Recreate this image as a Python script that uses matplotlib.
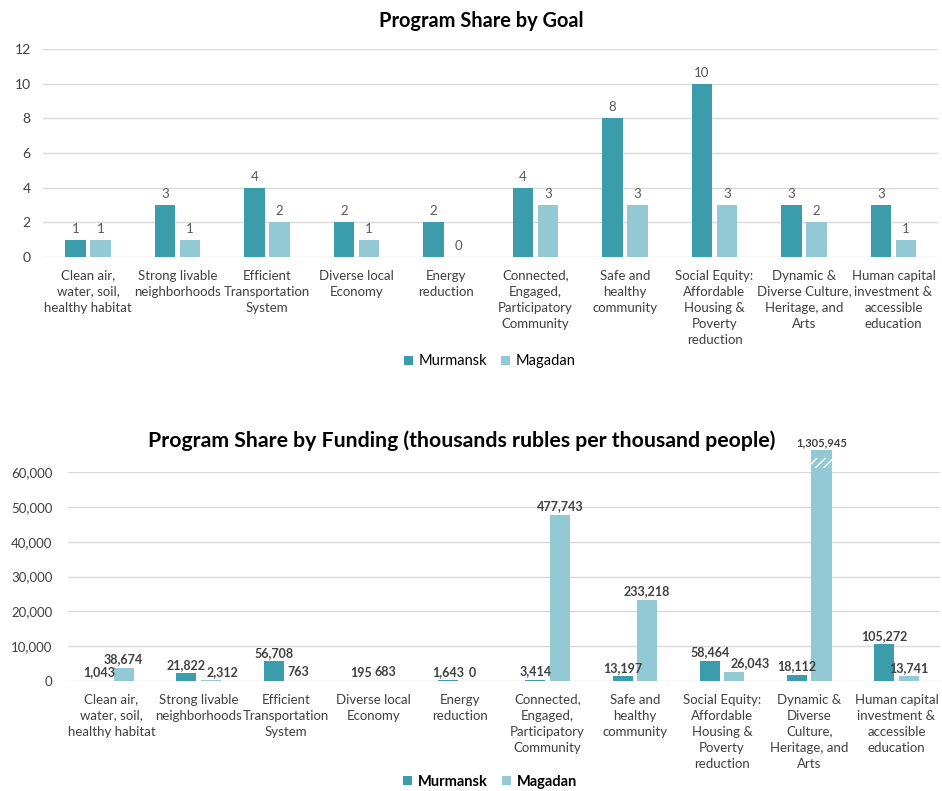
import matplotlib
matplotlib.use('Agg')
import matplotlib.pyplot as plt
import numpy as np

plt.rcParams['font.family'] = ['Lato', 'DejaVu Sans']

goal_labels = ['Clean air,\nwater, soil,\nhealthy habitat', 'Strong livable\nneighborhoods',
               'Efficient\nTransportation\nSystem', 'Diverse local\nEconomy', 'Energy\nreduction',
               'Connected,\nEngaged,\nParticipatory\nCommunity', 'Safe and\nhealthy\ncommunity',
               'Social Equity:\nAffordable\nHousing &\nPoverty\nreduction',
               'Dynamic &\nDiverse Culture,\nHeritage, and\nArts',
               'Human capital\ninvestment &\naccessible\neducation']
fund_labels = ['Clean air,\nwater, soil,\nhealthy habitat', 'Strong livable\nneighborhoods',
               'Efficient\nTransportation\nSystem', 'Diverse local\nEconomy', 'Energy\nreduction',
               'Connected,\nEngaged,\nParticipatory\nCommunity', 'Safe and\nhealthy\ncommunity',
               'Social Equity:\nAffordable\nHousing &\nPoverty\nreduction',
               'Dynamic &\nDiverse\nCulture,\nHeritage, and\nArts',
               'Human capital\ninvestment &\naccessible\neducation']

murmansk_goal = [1, 3, 4, 2, 2, 4, 8, 10, 3, 3]
magadan_goal = [1, 1, 2, 1, 0, 3, 3, 3, 2, 1]

murmansk_fund = [1043, 21822, 56708, 195, 1643, 3414, 13197, 58464, 18112, 105272]
magadan_fund = [38674, 2312, 763, 683, 0, 477743, 233218, 26043, 1305945, 13741]

c_mur = '#3b9cab'
c_mag = '#93c9d4'
grid_c = '#d9d9d9'
txt_c = '#595959'

fig = plt.figure(figsize=(9.42, 7.91), dpi=100)

def style(ax):
    for s in ax.spines.values():
        s.set_visible(False)
    ax.yaxis.grid(True, color=grid_c, lw=1)
    ax.set_axisbelow(True)
    ax.tick_params(length=0, colors='#404040')
    ax.tick_params(axis='y', labelsize=10, pad=9)
    ax.tick_params(axis='x', labelsize=9.5, pad=9)
    for t in ax.get_xticklabels():
        t.set_linespacing(1.4)

x = np.arange(10)
w = 0.23
off = 0.14

# top chart
ax1 = fig.add_axes([0.046, 0.675, 0.95, 0.263])
ax1.bar(x - off, murmansk_goal, w, color=c_mur, label='Murmansk')
ax1.bar(x + off, magadan_goal, w, color=c_mag, label='Magadan')
for i in range(10):
    ax1.text(x[i] - off, murmansk_goal[i] + 0.3, str(murmansk_goal[i]), ha='center', va='bottom', fontsize=9.5, color=txt_c)
    ax1.text(x[i] + off, magadan_goal[i] + 0.3, str(magadan_goal[i]), ha='center', va='bottom', fontsize=9.5, color=txt_c)
ax1.set_ylim(0, 12)
ax1.set_yticks(range(0, 13, 2))
ax1.set_xlim(-0.5, 9.5)
ax1.set_xticks(x)
ax1.set_xticklabels(goal_labels)
style(ax1)
fig.text(0.511, 0.973, 'Program Share by Goal', ha='center', va='center', fontsize=14.4, fontweight='bold')
fig.legend(*ax1.get_legend_handles_labels(), loc='center', bbox_to_anchor=(0.52, 0.543), ncol=2,
           frameon=False, fontsize=10.5, handlelength=0.6, handleheight=0.6, columnspacing=1.0, handletextpad=0.4)

# bottom chart (bars drawn at value / 10, largest one capped with a break mark)
scale = 10
cap = 66300
ax2 = fig.add_axes([0.072, 0.139, 0.926, 0.264])
h_mur = np.array(murmansk_fund) / scale
h_mag = np.minimum(np.array(magadan_fund) / scale, cap)
ax2.bar(x - off, h_mur, w, color=c_mur, label='Murmansk', clip_on=False)
ax2.bar(x + off, h_mag, w, color=c_mag, label='Magadan', clip_on=False)
brk = int(np.argmax(magadan_fund))
ax2.bar(x[brk] + off, 2800, w, bottom=61200, color=c_mag, edgecolor='white', hatch='////', lw=0, clip_on=False)
mur_txt = []
mag_txt = []
for i in range(10):
    mur_txt.append(ax2.text(x[i] - off, h_mur[i] + 700, f'{murmansk_fund[i]:,}', ha='center', va='bottom',
                            fontsize=9, fontweight='bold', color='#404040'))
    fs = 8 if i == brk else 9
    mag_txt.append(ax2.text(x[i] + off, h_mag[i] + 700, f'{magadan_fund[i]:,}', ha='center', va='bottom',
                            fontsize=fs, fontweight='bold', color='#404040', clip_on=False))
ax2.set_ylim(0, 60000)
ax2.set_yticks(range(0, 60001, 10000))
ax2.set_yticklabels([f'{v:,}' for v in range(0, 60001, 10000)])
ax2.set_xlim(-0.5, 9.5)
ax2.set_xticks(x)
ax2.set_xticklabels(fund_labels)
style(ax2)
ax2.tick_params(axis='y', labelsize=9.5, pad=11)
fig.text(0.49, 0.443, 'Program Share by Funding (thousands rubles per thousand people)', ha='center', va='center',
         fontsize=15.3, fontweight='bold')
fig.legend(*ax2.get_legend_handles_labels(), loc='center', bbox_to_anchor=(0.52, 0.012), ncol=2,
           frameon=False, prop={'size': 10.5, 'weight': 'bold'}, handlelength=0.6, handleheight=0.6,
           columnspacing=1.0, handletextpad=0.4)

# push Magadan labels sideways where they collide with the Murmansk label (like Excel does)
fig.canvas.draw()
r = fig.canvas.get_renderer()
for a, b in zip(mur_txt, mag_txt):
    ba = a.get_window_extent(r)
    bb = b.get_window_extent(r)
    if ba.overlaps(bb):
        shift = ba.x1 - bb.x0 + 1
        px, py = ax2.transData.transform(b.get_position())
        b.set_position(ax2.transData.inverted().transform((px + shift, py)))

fig.savefig('out.png', dpi=100)
